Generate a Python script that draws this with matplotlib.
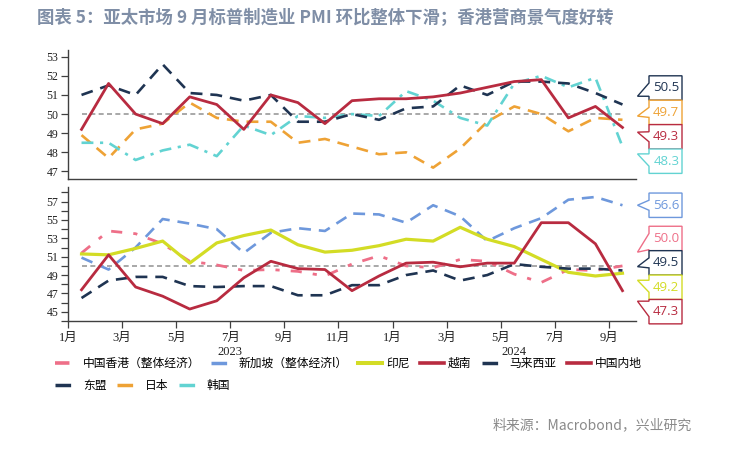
import matplotlib
matplotlib.use('Agg')
import matplotlib.pyplot as plt
from matplotlib.patches import Polygon
from matplotlib.lines import Line2D
import matplotlib.transforms as mtransforms

# ---------------- data ----------------
month_labels = ['1月', '3月', '5月', '7月', '9月', '11月', '1月', '3月', '5月', '7月', '9月']
year_labels = ['2023', '2024']
title = '图表 5：亚太市场 9 月标普制造业 PMI 环比整体下滑；香港营商景气度好转'
source = '料来源：Macrobond，兴业研究'

# top panel (Jan 2023 - Sep 2024)
china = [49.2, 51.6, 50.0, 49.5, 50.9, 50.5, 49.2, 51.0, 50.6, 49.5, 50.7, 50.8,
         50.8, 50.9, 51.1, 51.4, 51.7, 51.8, 49.8, 50.4, 49.3]
asean = [51.0, 51.5, 51.0, 52.6, 51.1, 51.0, 50.7, 51.0, 49.6, 49.6, 50.0, 49.7,
         50.3, 50.4, 51.5, 51.0, 51.7, 51.7, 51.6, 51.1, 50.5]
japan = [48.9, 47.7, 49.2, 49.5, 50.6, 49.8, 49.6, 49.6, 48.5, 48.7, 48.3, 47.9,
         48.0, 47.2, 48.2, 49.6, 50.4, 50.0, 49.1, 49.8, 49.7]
korea = [48.5, 48.5, 47.6, 48.1, 48.4, 47.8, 49.4, 48.9, 49.9, 49.8, 50.0, 49.9,
         51.2, 50.7, 49.8, 49.4, 51.6, 52.0, 51.4, 51.9, 48.3]

# bottom panel
hongkong = [51.4, 53.8, 53.5, 52.4, 50.5, 50.1, 49.5, 49.6, 49.4, 48.9, 50.2, 51.1,
            50.0, 49.8, 50.7, 50.5, 49.1, 48.2, 49.6, 49.5, 50.0]
singapore = [50.9, 49.6, 52.0, 55.1, 54.6, 54.0, 51.4, 53.6, 54.1, 53.8, 55.7, 55.6,
             54.7, 56.6, 55.4, 52.7, 54.1, 55.2, 57.2, 57.5, 56.6]
indonesia = [51.3, 51.2, 51.9, 52.7, 50.3, 52.5, 53.3, 53.9, 52.3, 51.5, 51.7, 52.2,
             52.9, 52.7, 54.2, 52.9, 52.1, 50.7, 49.3, 48.9, 49.2]
vietnam = [47.4, 51.2, 47.7, 46.7, 45.3, 46.2, 48.7, 50.5, 49.7, 49.6, 47.3, 48.9,
           50.3, 50.4, 49.9, 50.3, 50.3, 54.7, 54.7, 52.4, 47.3]
malaysia = [46.5, 48.4, 48.8, 48.8, 47.8, 47.7, 47.8, 47.8, 46.8, 46.8, 47.9, 47.9,
            49.0, 49.5, 48.4, 49.0, 50.2, 49.9, 49.7, 49.7, 49.5]
threshold = 50.0

# ---------------- styles ----------------
RED = '#b82b40'
NAVY = '#1f3452'
ORANGE = '#eea235'
TURQ = '#62d3d2'
PINK = '#ee6f88'
BLUE = '#6e98dc'
YELLOW = '#d3dc25'
GRAY = '#9a9a9a'

CJK = ['Noto Sans CJK SC', 'DejaVu Sans']
SERIF = ['Liberation Serif', 'Noto Sans CJK SC']
plt.rcParams['font.family'] = CJK

W, H = 731, 449
fig = plt.figure(figsize=(W / 100, H / 100), dpi=100)
fig.patch.set_facecolor('white')

def px_axes(left, top, right, bottom):
    return fig.add_axes([left / W, 1 - bottom / H, (right - left) / W, (bottom - top) / H])

ax1 = px_axes(68, 50, 636, 179.3)
ax2 = px_axes(68, 186.5, 636, 321)

n = len(china)
xs = [i + 0.5 for i in range(n)]

DASH = (0, (4.5, 3))
DASHDOT = (0, (4.5, 2.5, 1.2, 2.5))

styles = {
    '中国内地': dict(color=RED, lw=2.0, ls='-'),
    '东盟': dict(color=NAVY, lw=1.9, ls=DASH),
    '日本': dict(color=ORANGE, lw=1.9, ls=DASH),
    '韩国': dict(color=TURQ, lw=1.9, ls=DASHDOT),
    '中国香港（整体经济）': dict(color=PINK, lw=2.0, ls=(0, (4, 4, 1.5, 4))),
    '新加坡（整体经济l）': dict(color=BLUE, lw=1.9, ls=DASH),
    '印尼': dict(color=YELLOW, lw=2.3, ls='-'),
    '越南': dict(color=RED, lw=2.0, ls='-'),
    '马来西亚': dict(color=NAVY, lw=1.9, ls=DASH),
}

ax1.plot(xs, [threshold] * n, color=GRAY, lw=1.2, ls=(0, (3, 2)), zorder=1)
ax1.plot(xs, japan, **styles['日本'], zorder=2)
ax1.plot(xs, korea, **styles['韩国'], zorder=3)
ax1.plot(xs, asean, **styles['东盟'], zorder=4)
ax1.plot(xs, china, **styles['中国内地'], zorder=5)

ax2.plot(xs, [threshold] * n, color=GRAY, lw=1.2, ls=(0, (3, 2)), zorder=1)
ax2.plot(xs, singapore, **styles['新加坡（整体经济l）'], zorder=2)
ax2.plot(xs, hongkong, **styles['中国香港（整体经济）'], zorder=3)
ax2.plot(xs, indonesia, **styles['印尼'], zorder=4)
ax2.plot(xs, malaysia, **styles['马来西亚'], zorder=5)
ax2.plot(xs, vietnam, **styles['越南'], zorder=6)

SPINE = '#404040'
for ax in (ax1, ax2):
    ax.set_xlim(0, n)
    for s in ('top', 'right'):
        ax.spines[s].set_visible(False)
    for s in ('left', 'bottom'):
        ax.spines[s].set_color(SPINE)
        ax.spines[s].set_linewidth(1.0)
    ax.tick_params(axis='y', direction='out', length=5, width=0.9, color=SPINE,
                   labelsize=8.5, pad=2)
    ax.tick_params(axis='y', which='minor', direction='out', length=5, width=0.9, color=SPINE)

ax1.set_ylim(46.59, 53.35)
ax1.set_yticks(range(47, 54))
ax1.set_xticks([])
for lab in ax1.get_yticklabels():
    lab.set_family(SERIF)
    lab.set_color('#222222')

ax2.set_ylim(44.14, 58.64)
ax2.set_yticks(range(45, 58, 2))
ax2.set_yticks(range(44, 59, 2), minor=True)
ax2.set_xticks(range(0, n, 2))
ax2.set_xticklabels(month_labels, family=SERIF, fontsize=9, color='#222222')
ax2.tick_params(axis='x', direction='out', length=5, width=0.9, color=SPINE, pad=3)
for lab in ax2.get_yticklabels():
    lab.set_family(SERIF)
    lab.set_color('#222222')

# year labels
blend = mtransforms.blended_transform_factory(ax2.transData, ax2.transAxes)
yoff = mtransforms.ScaledTranslation(0, -31 / 100, fig.dpi_scale_trans)
ax2.text(6, 0, year_labels[0], transform=blend + yoff,
         ha='center', va='center', fontsize=9, family=SERIF, color='#222222')
ax2.text((12 + n) / 2, 0, year_labels[1], transform=blend + yoff,
         ha='center', va='center', fontsize=9, family=SERIF, color='#222222')

# ---------------- callouts ----------------
BOX_L, BOX_R, TIP_X, BOX_H = 649, 682, 637.5, 24.4

def callouts(ax, items):
    ys = []
    for v, c in items:
        yd = ax.transData.transform((0, v))[1]
        ys.append((H - yd, v, c))
    ys.sort(key=lambda t: t[0])
    groups = [[k] for k in range(len(ys))]
    while True:
        pos = []
        for g in groups:
            cen = sum(ys[k][0] for k in g) / len(g)
            pos.append(cen - BOX_H * len(g) / 2)
        merged = False
        for k in range(len(groups) - 1):
            if pos[k] + BOX_H * len(groups[k]) > pos[k + 1]:
                groups[k] = groups[k] + groups[k + 1]
                del groups[k + 1]
                merged = True
                break
        if not merged:
            break
    for g, start in zip(groups, pos):
        for j, k in enumerate(g):
            ydata, v, c = ys[k]
            top = start + j * BOX_H
            bot = top + BOX_H
            cen = (top + bot) / 2
            tip = (ydata + cen) / 2
            a1 = max(min(cen - 5, tip), top + 1)
            a2 = min(max(cen + 5, tip), bot - 1)
            pts = [(BOX_L, top), (BOX_R, top), (BOX_R, bot), (BOX_L, bot),
                   (BOX_L, a2), (TIP_X, tip), (BOX_L, a1)]
            pts = [(x / W, 1 - y / H) for x, y in pts]
            fig.patches.append(Polygon(pts, closed=True, transform=fig.transFigure,
                                       facecolor='white', edgecolor=c, lw=1.0, zorder=10))
            fig.text((BOX_L + BOX_R) / 2 / W + 0.001, 1 - cen / H, f'{v:.1f}', color=c,
                     ha='center', va='center', fontsize=9.5, family=['Open Sans'], zorder=11)

callouts(ax1, [(asean[-1], NAVY), (japan[-1], ORANGE), (china[-1], RED), (korea[-1], TURQ)])
callouts(ax2, [(singapore[-1], BLUE), (hongkong[-1], PINK), (malaysia[-1], NAVY),
               (indonesia[-1], YELLOW), (vietnam[-1], RED)])

# ---------------- legend ----------------
def handle(name):
    st = styles[name]
    return Line2D([], [], color=st['color'], lw=st['lw'] + 0.6, ls=st['ls'])

row1 = ['中国香港（整体经济）', '新加坡（整体经济l）', '印尼', '越南', '马来西亚', '中国内地']
row2 = ['东盟', '日本', '韩国']
leg_kw = dict(loc='upper left', frameon=False, borderpad=0, borderaxespad=0,
              handlelength=2.0, handletextpad=0.35, columnspacing=0.9,
              prop={'family': CJK, 'size': 8.5})
fig.legend([handle(nm) for nm in row1], row1, ncol=6,
           bbox_to_anchor=(55 / W, 1 - 357 / H), **leg_kw)
fig.legend([handle(nm) for nm in row2], row2, ncol=3,
           bbox_to_anchor=(55 / W, 1 - 379 / H), **leg_kw)

# ---------------- title & source ----------------
fig.text(37 / W, 1 - 18 / H, title, fontsize=12.5, color='#7f8ea6', weight='bold',
         ha='left', va='center', family=CJK)
fig.text(692 / W, 1 - 425 / H, source, fontsize=10, color='#8a8a8a',
         ha='right', va='center', family=CJK)

fig.savefig('out.png', dpi=100, facecolor='white')
